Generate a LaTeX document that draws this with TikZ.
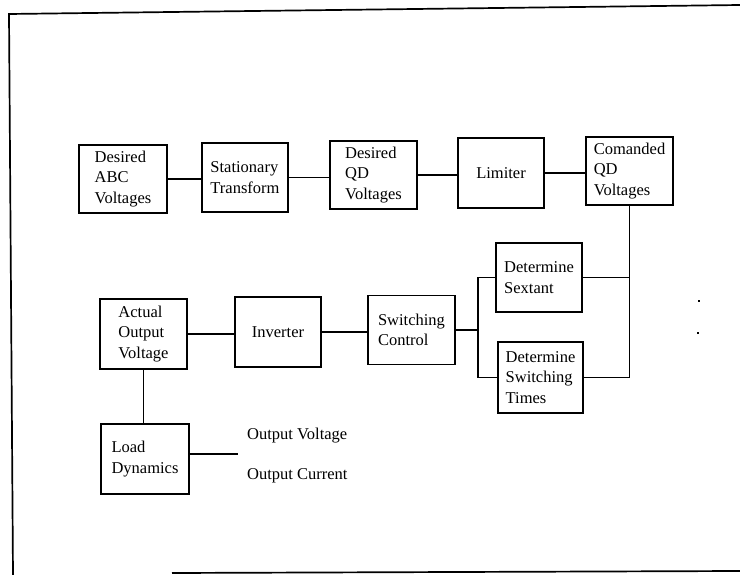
\documentclass[tikz,border=0pt]{standalone}
\usepackage{fontspec}
\setmainfont{Liberation Serif}
\begin{document}
\begin{tikzpicture}[x=1pt,y=-1pt,
  blk/.style={draw,line width=1.5pt,inner sep=0pt,align=left,
    font=\fontsize{16.5}{20.5}\selectfont},
  wire/.style={line width=1.4pt},
  lbl/.style={inner sep=0pt,anchor=west,font=\fontsize{16.5}{20.5}\selectfont}]
\useasboundingbox (0,0) rectangle (740,575);
% frame
\draw[line width=1.7pt] (740,5) -- (9,14) -- (13,575);
\draw[line width=1.7pt] (172,573) -- (740,571);
% top row
\node[blk,minimum width=88pt,minimum height=68pt] (abc) at (123,179) {Desired\\ABC\\Voltages};
\node[blk,minimum width=86pt,minimum height=69pt] (st) at (245,177.5) {Stationary\\Transform};
\node[blk,minimum width=87pt,minimum height=68pt] (dqd) at (373.5,175) {Desired\\QD\\Voltages};
\node[blk,minimum width=86pt,minimum height=70pt] (lim) at (501,173) {Limiter};
\node[blk,minimum width=87pt,minimum height=68pt] (cqd) at (629.5,171) {Comanded\\QD\\Voltages};
% middle
\node[blk,minimum width=86pt,minimum height=69pt] (sext) at (539,277.5) {Determine\\Sextant};
\node[blk,minimum width=85pt,minimum height=71pt] (times) at (540.5,377.5) {Determine\\Switching\\Times};
\node[blk,minimum width=87pt,minimum height=69pt] (sc) at (411.5,330) {Switching\\Control};
\node[blk,minimum width=86pt,minimum height=70pt] (inv) at (278,332) {Inverter};
\node[blk,minimum width=87pt,minimum height=70pt] (aov) at (143.5,334) {Actual\\Output\\Voltage};
\node[blk,minimum width=88pt,minimum height=70pt] (load) at (145,459) {Load\\Dynamics};
\node[lbl] (ov) at (247,436) {Output Voltage};
\node[lbl] (oc) at (247,476) {Output Current};
% connectors
\draw[wire] (abc.east) -- (abc.east -| st.west);
\draw[wire] (st.east) -- (st.east -| dqd.west);
\draw[wire] (dqd.east) -- (dqd.east -| lim.west);
\draw[wire] (lim.east) -- (lim.east -| cqd.west);
\draw[wire] (cqd.south) |- (times.east);
\draw[wire] (sext.east) -- (sext.east -| cqd.south);
\coordinate (j) at (478,332);
\draw[wire] (sext.west) -| (j) |- (times.west);
\draw[wire] (sc.east) -- (sc.east -| j);
\draw[wire] (inv.east) -- (inv.east -| sc.west);
\draw[wire] (aov.east) -- (aov.east -| inv.west);
\draw[wire] (aov.south) -- (aov.south |- load.north);
\coordinate (lo) at (238,454);
\draw[wire] (load.east |- lo) -- (lo);
% specks
\draw[line width=1.2pt] (698,301) -- (700,301);
\draw[line width=1.2pt] (697,333) -- (699,333);
\end{tikzpicture}
\end{document}
